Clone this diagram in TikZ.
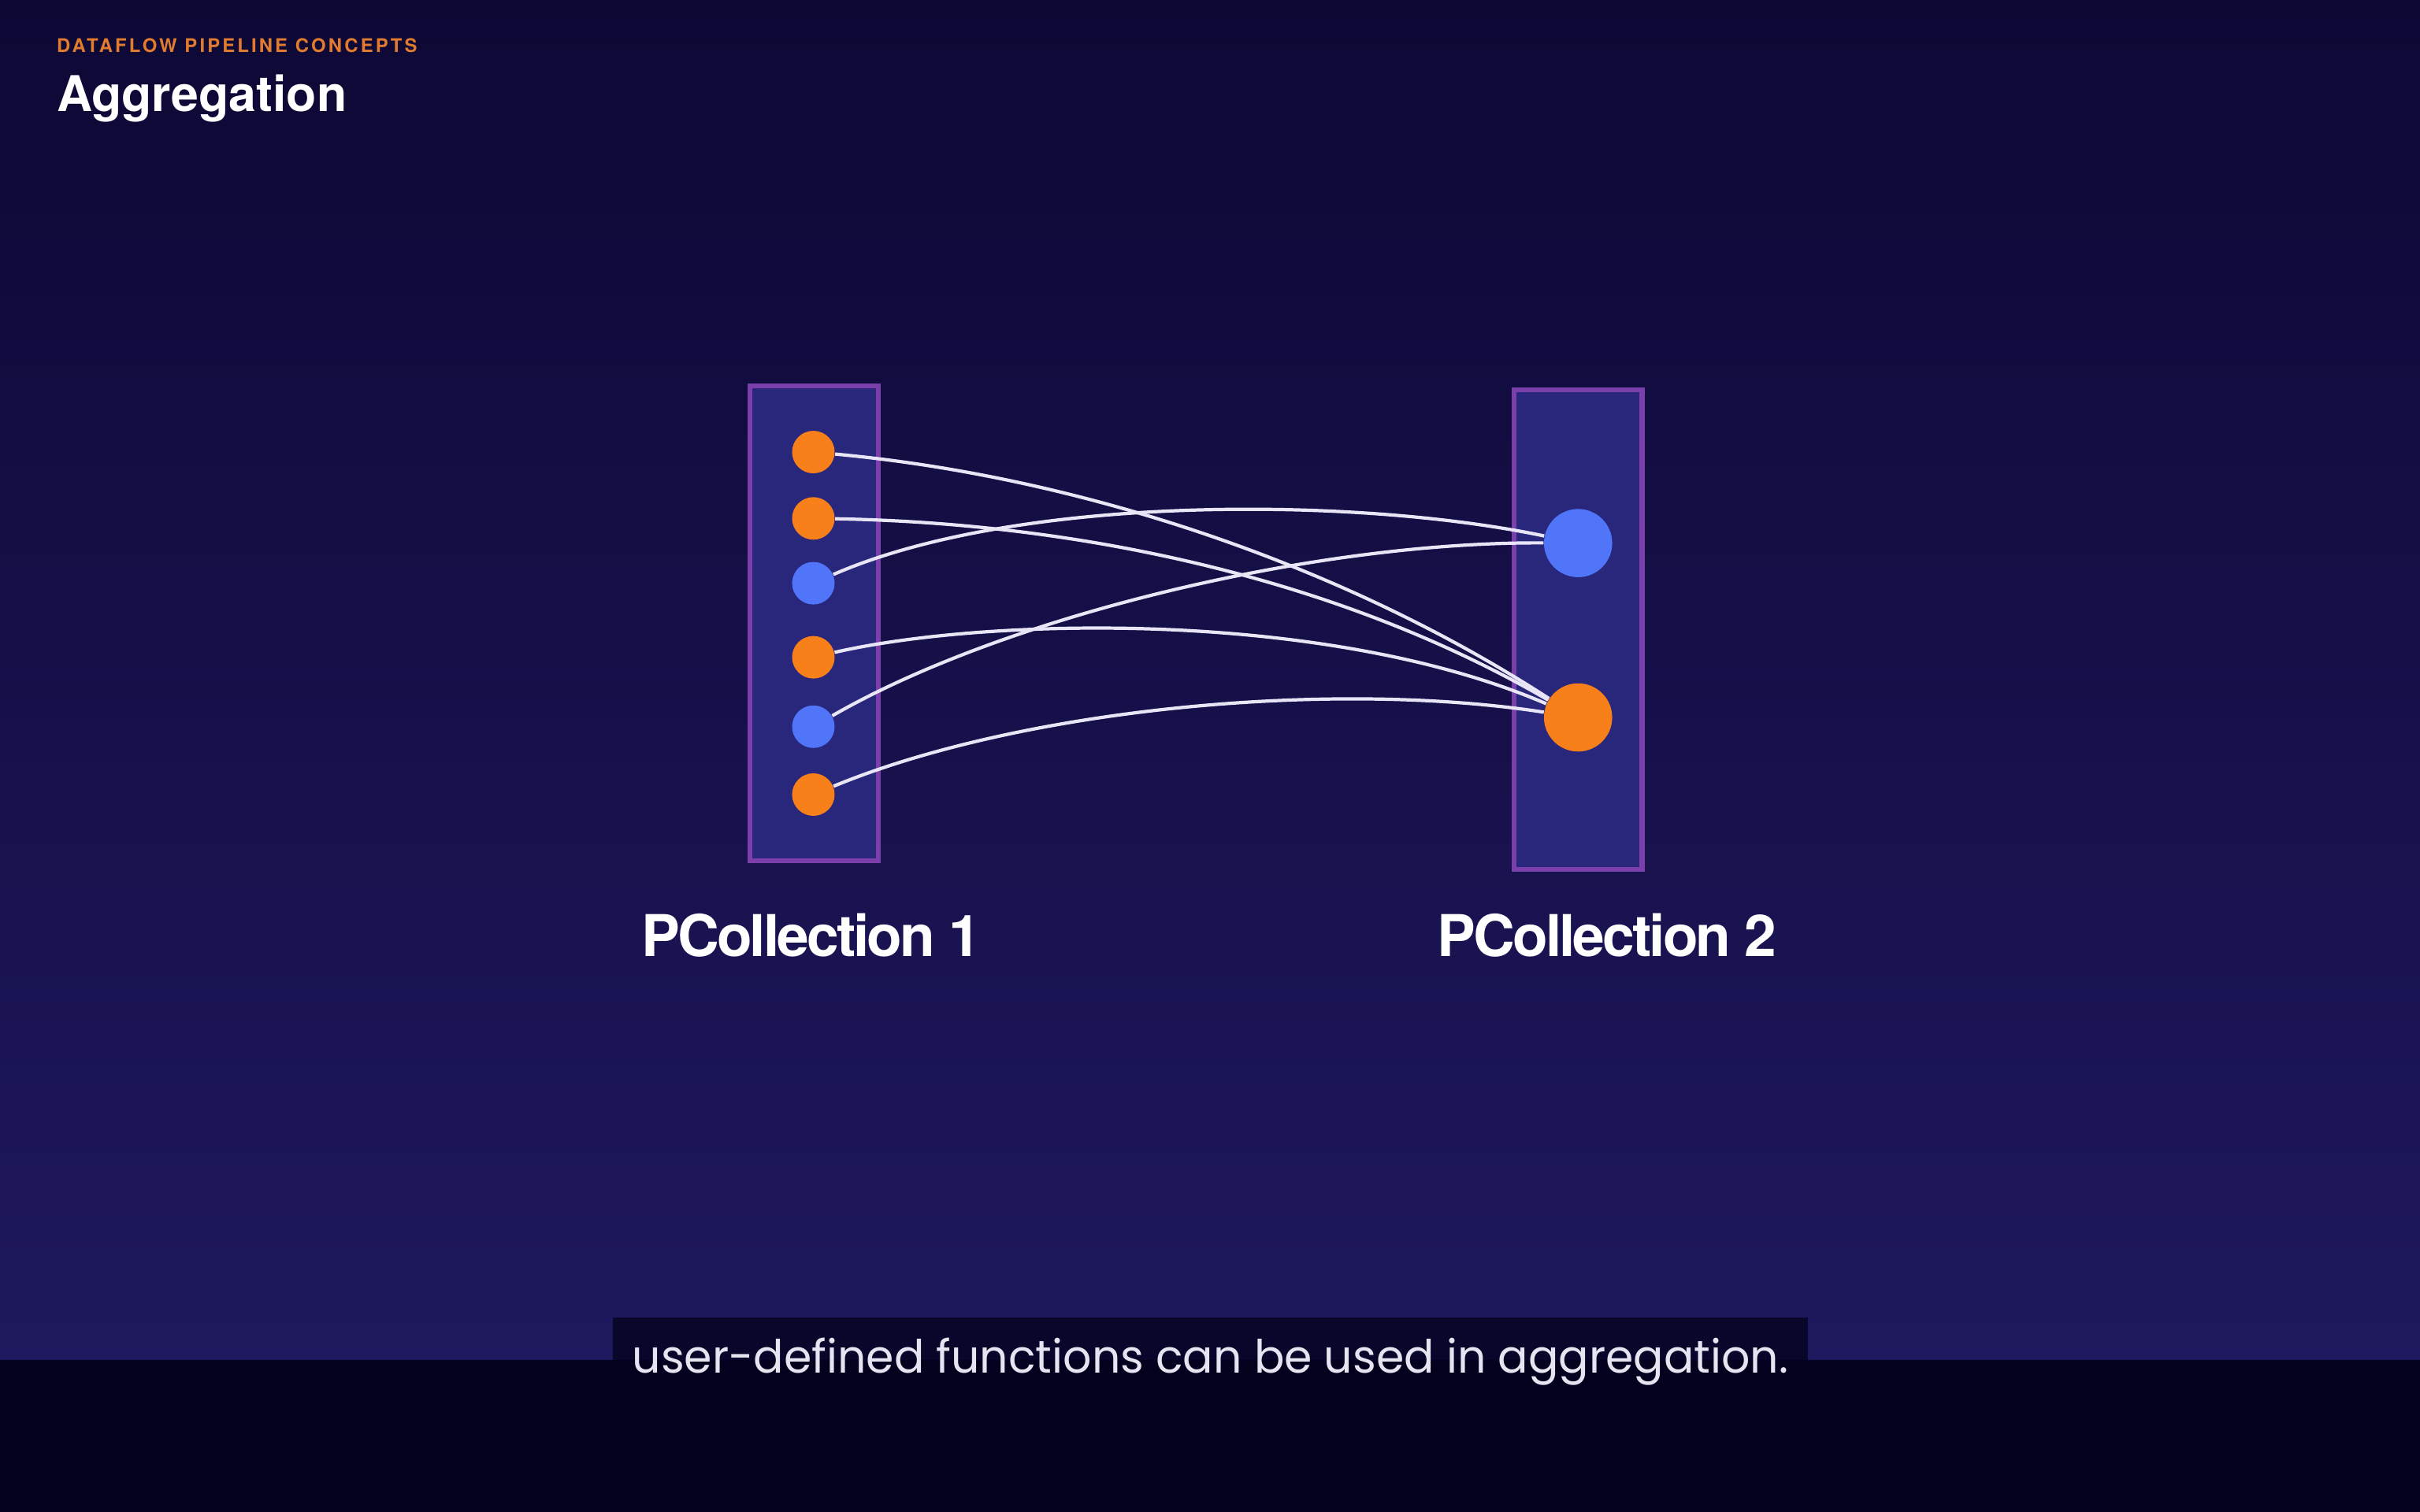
\documentclass[tikz,border=0pt]{standalone}
\usepackage{fontspec}
\usepackage{graphicx}
\setmainfont{TeX Gyre Heros}
\newfontfamily\kickerfont[LetterSpace=13]{TeX Gyre Heros}
\newfontfamily\labelfont[LetterSpace=-4]{TeX Gyre Heros}
\newfontfamily\capfont{Poppins}
\definecolor{bgtop}{HTML}{0D0834}
\definecolor{bgbot}{HTML}{1E185E}
\definecolor{bandcol}{HTML}{03011E}
\definecolor{capbox}{HTML}{08062B}
\definecolor{captext}{HTML}{E6E4F0}
\definecolor{kicker}{HTML}{E07B30}
\definecolor{colfill}{HTML}{29277B}
\definecolor{colborder}{HTML}{7B3FAC}
\definecolor{dotorange}{HTML}{F8801A}
\definecolor{dotblue}{HTML}{5075F8}
\definecolor{linkwhite}{HTML}{E8E5F6}

\begin{document}
\begin{tikzpicture}[x=0.019592cm, y=-0.019592cm,
  dot/.style={circle, inner sep=0pt, minimum size=0.54cm},
  bigdot/.style={circle, inner sep=0pt, minimum size=0.866cm},
  link/.style={draw=linkwhite, line width=1.2pt},
  column/.style={draw=colborder, line width=1.8pt, fill=colfill},
  collabel/.style={anchor=base, inner sep=0pt, text=white, font=\labelfont\bfseries\fontsize{20.8}{24}\selectfont}]
\useasboundingbox (0,0) rectangle (1568,980);
% background
\shade[top color=bgtop, bottom color=bgbot] (0,0) rectangle (1568,882);
\fill[capbox] (397,854) rectangle (1171.5,882);
\fill[bandcol] (0,881.5) rectangle (1568,980);
% heading
\node[anchor=base west, inner sep=0pt, text=kicker, font=\kickerfont\bfseries\fontsize{6.8}{8}\selectfont] (kicker) at (36.5,34) {DATAFLOW PIPELINE CONCEPTS};
\node[anchor=base west, inner sep=0pt, text=white, font=\bfseries\fontsize{17.8}{20}\selectfont] (title) at (36.5,72.3) {Aggregation};
% columns
\draw[column] (486,250) rectangle (569,558);
\draw[column] (981,252.5) rectangle (1064,563.5);
\foreach \y/\c [count=\i] in {293/dotorange,336/dotorange,378/dotblue,426/dotorange,471/dotblue,515/dotorange}
{
	\node[dot, fill=\c] (p\i) at (527,\y) {};
}
\node[bigdot, fill=dotblue] (qb) at (1022.5,352) {};
\node[bigdot, fill=dotorange] (qo) at (1022.5,465) {};
% links
\draw[link] (p1) .. controls (700,309) and (870,366) .. (qo);
\draw[link] (p2) .. controls (700,339) and (868,375) .. (qo);
\draw[link] (p3) .. controls (660,320) and (880,322) .. (qb);
\draw[link] (p4) .. controls (640,400) and (860,395) .. (qo);
\draw[link] (p5) .. controls (650,400) and (850,351) .. (qb);
\draw[link] (p6) .. controls (660,460) and (860,440) .. (qo);
\node[collabel] (lab1) at (525.6,619.8) {PCollection 1};
\node[collabel] (lab2) at (1041.3,619.8) {PCollection 2};
% caption
\node[anchor=base west, inner sep=0pt, text=captext] (caption) at (409.4,890) {\resizebox{14.674cm}{0.445cm}{\capfont user-defined functions can be used in aggregation.}};
\end{tikzpicture}
\end{document}
